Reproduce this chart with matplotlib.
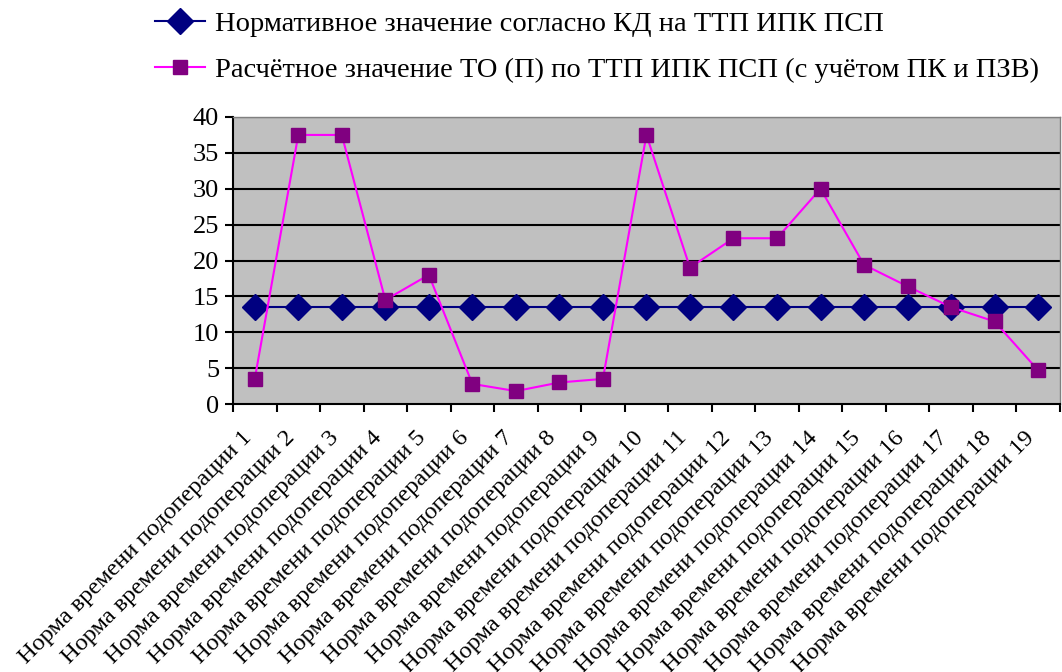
import matplotlib.pyplot as plt
import matplotlib.transforms as mtransforms
import numpy as np

plt.rcParams["font.family"] = ["Liberation Serif", "DejaVu Serif"]

categories = [f"Норма времени подоперации {i}" for i in range(1, 20)]
normative = [13.5] * 19
calculated = [3.5, 37.5, 37.5, 14.5, 18.0, 2.8, 1.8, 3.0, 3.5, 37.5,
              19.0, 23.1, 23.1, 30.0, 19.4, 16.4, 13.5, 11.5, 4.7]
y_ticks = list(range(0, 45, 5))

label_norm = "Нормативное значение согласно КД на ТТП ИПК ПСП"
label_calc = "Расчётное значение ТО (П) по ТТП ИПК ПСП (с учётом ПК и ПЗВ)"

fig = plt.figure(figsize=(10.62, 6.72), dpi=100)
ax = fig.add_axes([0.2194, 0.3988, 0.7786, 0.4271])
ax.set_facecolor("#C0C0C0")

x = np.arange(len(categories))

# horizontal grid lines, drawn by hand so they sit under the series
for v in y_ticks[1:]:
    ax.axhline(v, color="black", lw=1.5, zorder=1)

ax.plot(x, normative, color="#000080", lw=1.5, marker="D", markersize=13,
        markerfacecolor="#000080", markeredgecolor="#000080",
        label=label_norm, zorder=3, clip_on=False)
ax.plot(x, calculated, color="#FF00FF", lw=1.5, marker="s", markersize=9.5,
        markerfacecolor="#800080", markeredgecolor="#800080",
        label=label_calc, zorder=4, clip_on=False)

ax.set_xlim(-0.5, len(categories) - 0.5)
ax.set_ylim(0, 40)
ax.set_yticks(y_ticks)
ax.tick_params(axis="y", labelsize=19, length=6, width=1.5, direction="out", pad=4)

ax.set_xticks(x)
ax.set_xticklabels(categories, rotation=45, ha="right", va="top",
                   rotation_mode="anchor", fontsize=17.6)
ax.tick_params(axis="x", which="major", length=0, pad=14)
ax.set_xticks(np.arange(-0.5, len(categories)), minor=True)
ax.tick_params(axis="x", which="minor", length=6, width=1.5, direction="out")

# nudge rotated labels so their ends sit just under the category centre
shift = mtransforms.ScaledTranslation(-0.14, -0.04, fig.dpi_scale_trans)
for lbl in ax.get_xticklabels():
    lbl.set_transform(lbl.get_transform() + shift)

for side in ["left", "bottom"]:
    ax.spines[side].set_color("black")
    ax.spines[side].set_linewidth(1.5)
for side in ["top", "right"]:
    ax.spines[side].set_color("#808080")
    ax.spines[side].set_linewidth(1.0)

fig.legend(loc="upper left", bbox_to_anchor=(0.146, 0.983), frameon=False,
           fontsize=20.5, handlelength=1.75, handletextpad=0.35,
           labelspacing=0.7, borderpad=0, borderaxespad=0)

fig.savefig("out.png", dpi=100)
